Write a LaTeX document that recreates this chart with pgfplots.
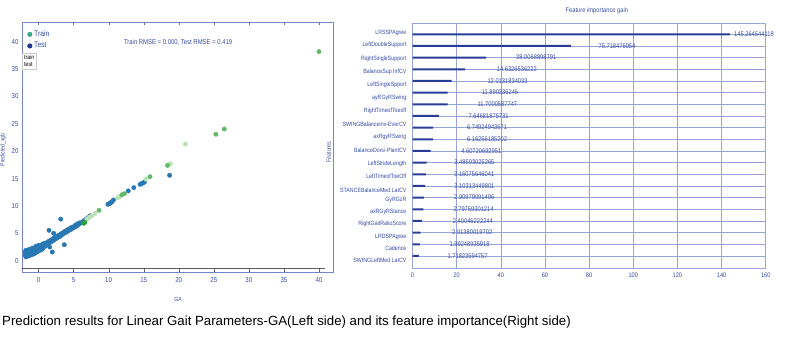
\documentclass[border=0pt]{standalone}
\usepackage{fontspec}
\setmainfont{Liberation Sans}
\newfontfamily\cond[FakeStretch=0.85]{Liberation Sans}
\newfontfamily\capfont{Liberation Sans}
\usepackage{pgfplots}
\pgfplotsset{compat=1.18}
\definecolor{frameblue}{RGB}{115,132,200}
\definecolor{txtblue}{RGB}{55,75,165}
\definecolor{barblue}{RGB}{40,60,150}
\definecolor{gridblue}{RGB}{150,165,215}
\definecolor{testpt}{RGB}{40,120,180}
\definecolor{grnmed}{RGB}{100,185,105}
\definecolor{grnlight}{RGB}{185,225,185}
\definecolor{grndark}{RGB}{50,160,60}
\definecolor{legtrain}{RGB}{60,170,140}
\definecolor{legtest}{RGB}{30,55,145}
\begin{document}
\begin{tikzpicture}
\useasboundingbox (0,0) rectangle (788bp,354bp);
% ---------------- left: scatter ----------------
\begin{axis}[
  at={(22bp,82bp)}, anchor=south west, scale only axis,
  width=311bp, height=250bp,
  xmin=-2.35, xmax=42, ymin=-2.06, ymax=43.6,
  xtick={0,5,...,40}, ytick={0,5,...,40},
  axis line style={frameblue, line width=0.6bp},
  /pgf/number format/assume math mode=true,
  tick label style={font=\cond\fontsize{7.2}{8}\selectfont, text=txtblue},
  major tick length=3bp,
  xtick style={draw=black!60},
  ytick style={draw=none},
  xticklabel style={yshift=-2bp},
  clip=false,
  legend style={at={(axis description cs:0.014,0.978)}, anchor=north west, draw=none, fill=none,
    font=\cond\fontsize{8}{9}\selectfont, text=txtblue, row sep=0.5bp, inner sep=1bp},
  legend cell align=left,
]
\addlegendimage{only marks, mark=*, mark size=2.3bp, legtrain}
\addlegendentry{Train}
\addlegendimage{only marks, mark=*, mark size=2.3bp, legtest}
\addlegendentry{Test}
\addplot[draw=black!65, line width=0.6bp, forget plot] coordinates {(-2.35,-1.33) (40.9,-1.33)};
% test points (blue)
\addplot[only marks, mark=*, mark size=2.2bp, testpt, forget plot] coordinates {
(-1.9,1.0) (-1.9,1.6) (-1.8,0.7) (-1.8,1.3) (-1.8,1.9) (-1.7,1.0) (-1.7,1.5)
(-1.6,0.8) (-1.6,1.2) (-1.6,1.8) (-1.5,1.1) (-1.5,1.6) (-1.4,0.9) (-1.4,1.4) (-1.4,2.0)
(-1.3,1.2) (-1.3,1.7) (-1.2,1.0) (-1.2,1.5) (-1.2,2.1) (-1.1,1.3) (-1.1,1.9)
(-1.0,1.1) (-1.0,1.6) (-1.0,2.2) (-0.9,1.4) (-0.9,2.0) (-0.8,1.2) (-0.8,1.8) (-0.8,2.3)
(-0.7,1.5) (-0.7,2.1) (-0.6,1.3) (-0.6,1.9) (-0.5,1.7) (-0.5,2.3) (-0.4,1.5) (-0.4,2.1) (-0.4,2.6)
(-0.3,1.8) (-0.3,2.4) (-0.2,1.6) (-0.2,2.2) (-0.1,2.0) (-0.1,2.6) (0.0,1.8) (0.0,2.3) (0.0,2.8)
(0.1,2.1) (0.1,2.6) (0.2,1.9) (0.2,2.4) (0.3,2.2) (0.3,2.8) (0.4,2.0) (0.4,2.6) (0.5,2.4) (0.5,2.9)
(0.6,2.2) (0.6,2.7) (0.7,2.5) (0.7,3.1) (0.8,2.8) (0.9,2.6) (0.9,3.2) (1.0,2.8) (1.0,3.1)
(1.2,3.0) (1.2,3.3) (1.4,3.1) (1.4,3.5) (1.6,3.3) (1.6,3.6) (1.8,3.5) (1.8,3.8) (2.0,3.6) (2.0,3.9)
(2.2,3.8) (2.2,4.1) (2.4,4.0) (2.4,4.3) (2.6,4.1) (2.6,4.4) (2.8,4.3) (2.8,4.6) (3.0,4.4) (3.0,4.7)
(3.2,4.6) (3.2,4.9) (3.4,4.8) (3.4,5.0) (3.6,5.0) (3.6,5.2) (3.8,5.1) (3.8,5.4) (4.0,5.3) (4.0,5.5)
(4.2,5.4) (4.2,5.7) (4.4,5.6) (4.4,5.8) (4.6,5.7) (4.6,6.0) (4.8,5.9) (4.8,6.1) (5.0,6.0) (5.0,6.2)
(5.2,6.2) (5.2,6.4) (5.4,6.3) (5.4,6.6) (5.6,6.5) (5.6,6.7) (5.8,6.7) (5.8,6.9) (6.0,6.9) (6.2,7.0)
(6.4,7.2) (6.6,7.4) (6.8,7.6) (7.0,7.8) (7.2,8.0) (7.4,8.2)
(3.17,7.6) (1.5,5.55) (2.17,5.0) (3.68,2.92) (1.97,1.59) (1.6,2.5) (2.97,4.38)
(9.9,10.3) (10.05,10.4) (10.2,10.5) (10.35,10.65) (10.5,10.8) (10.7,11.1)
(12.8,12.75) (13.6,13.35) (14.5,13.95) (14.7,14.1) (14.9,14.2) (15.1,14.35) (18.7,15.6)
};
% train points (greens)
\addplot[only marks, mark=*, mark size=2.2bp, grnlight, forget plot] coordinates {
(20.95,21.3) (18.8,17.7) (15.3,14.9) (11.65,11.75) (11.3,11.5) (8.06,8.66) (7.2,7.9) (7.6,8.2) (6.9,7.6)
};
\addplot[only marks, mark=*, mark size=2.2bp, grnmed, forget plot] coordinates {
(40.0,38.2) (25.3,23.1) (26.5,24.05) (18.4,17.4) (15.9,15.35) (12.24,12.24) (11.9,12.05) (8.63,9.2)
};
\addplot[only marks, mark=*, mark size=2.2bp, grndark, forget plot] coordinates {
(6.45,6.83) (6.6,7.0)
};
\node[anchor=north west, draw=black!20, fill=white, inner sep=2bp, align=left,
  font=\cond\fontsize{6.2}{7}\selectfont, text=black] at (axis description cs:0.0,0.875) {train\\test};
\node[font=\cond\fontsize{7}{8}\selectfont, text=txtblue] at (axis description cs:0.502,0.92)
  {Train RMSE = 0.000, Test RMSE = 0.419};
\node[font=\cond\fontsize{6}{7}\selectfont, text=txtblue] at (axis description cs:0.502,-0.108) {GA};
\node[font=\cond\fontsize{6}{7}\selectfont, text=txtblue, rotate=90] at (axis description cs:-0.061,0.488) {Predicted\_xgb};
\end{axis}
% ---------------- right: feature importance ----------------
\begin{axis}[
  at={(412.5bp,86bp)}, anchor=south west, scale only axis,
  width=353.2bp, height=245bp,
  xmin=0, xmax=160, ymin=-0.968, ymax=20.03, y dir=reverse,
  xtick={0,20,...,160}, ytick={0,1,...,19}, yticklabels={},
  xmajorgrids, ymajorgrids,
  grid style={gridblue, line width=0.6bp},
  axis line style={gridblue, line width=0.6bp},
  major tick length=0pt,
  tick style={draw=none},
  /pgf/number format/assume math mode=true,
  tick label style={font=\cond\fontsize{6.6}{7}\selectfont, text=txtblue},
  xticklabel style={yshift=-1bp},
  yticklabel style={font=\cond\fontsize{6.2}{7}\selectfont, text=txtblue, inner sep=0pt, xshift=-6bp},
  extra y ticks={-0.12,0.94,2.09,3.2,4.34,5.48,6.57,7.69,8.83,9.97,11.09,12.2,13.34,14.16,15.23,16.26,17.34,18.35,19.41},
  extra y tick labels={LRSSPAgree,LeftDoubleSupport,RightSingleSupport,BalanceSup InfCV,LeftSingleSpport,ayRGyRSwing,RightTimeofToeoff,SWINGBalanceInv-EverCV,axRgyRSwing,BalanceDorsi-PlantCV,LeftStrideLength,LeftTimeofToeOff,STANCEBalanceMed LatCV,GyRGzR,axRGyRStance,RightGaitRatioScore,LRDSPAgree,Cadence,SWINGLeftMed LatCV},
  extra y tick style={grid=none},
  clip=false,
]
\addplot[xbar, bar width=2bp, fill=barblue, draw=none] coordinates {
(143.8,0) (71.7,1) (33.4,2) (23.8,3) (17.7,4) (15.9,5) (15.9,6) (12.0,7) (9.3,8) (9.3,9)
(8.2,10) (6.4,11) (6.0,12) (5.7,13) (5.2,14) (4.9,15) (4.2,16) (3.7,17) (3.3,18) (2.9,19)
};
\begin{scope}[every node/.style={anchor=west, inner sep=0pt, font=\cond\fontsize{6.8}{7}\selectfont, text=txtblue}]
\node at (axis cs:145.6,0) {145.264544118};
\node at (axis cs:84.2,1.06) {75.718476954};
\node at (axis cs:46.9,2) {38.0068898791};
\node at (axis cs:38.1,3) {14.6326536222};
\node at (axis cs:33.9,4) {12.0131834033};
\node at (axis cs:31.3,5) {11.890336246};
\node at (axis cs:29.4,6) {11.7000587747};
\node at (axis cs:25.3,7) {7.64681875731};
\node at (axis cs:24.6,8) {6.74924943671};
\node at (axis cs:24.6,9) {6.16256185202};
\node at (axis cs:22.0,10) {4.60720692951};
\node at (axis cs:18.9,11) {3.48593025265};
\node at (axis cs:18.8,12) {3.16075646041};
\node at (axis cs:18.9,13) {3.10313449801};
\node at (axis cs:18.8,14) {2.90979091496};
\node at (axis cs:18.5,15) {2.79759301214};
\node at (axis cs:18.2,16) {2.40046222244};
\node at (axis cs:17.9,17) {2.01380019702};
\node at (axis cs:16.7,18) {1.99248935918};
\node at (axis cs:15.8,19) {1.71823594757};
\end{scope}
\node[font=\cond\fontsize{6.8}{8}\selectfont, text=txtblue] at (axis description cs:0.522,1.049) {Feature importance gain};
\node[font=\cond\fontsize{6.2}{7}\selectfont, text=txtblue, rotate=90] at (axis description cs:-0.237,0.473) {Features};
\end{axis}
\node[anchor=west, inner sep=0pt, font=\capfont\fontsize{13.3}{15}\selectfont, text=black] at (2bp,32bp)
  {Prediction results for Linear Gait Parameters-GA(Left side) and its feature importance(Right side)};
\end{tikzpicture}
\end{document}
